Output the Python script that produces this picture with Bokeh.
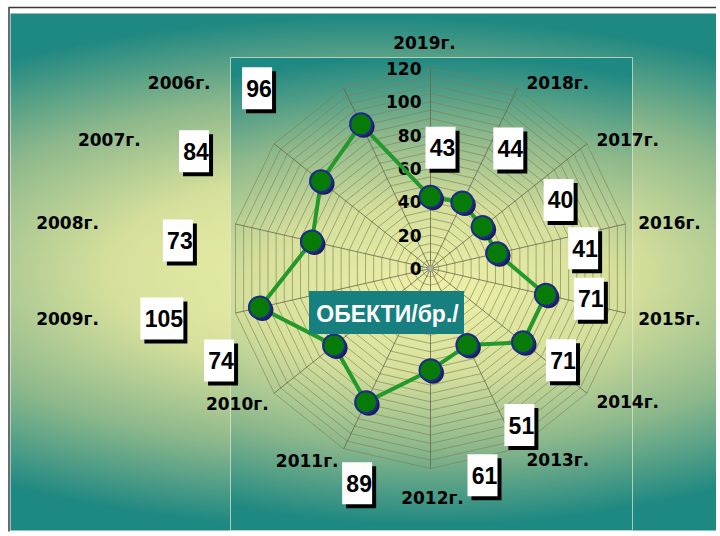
import numpy as np
from bokeh.plotting import figure
from bokeh.models import Range1d
from bokeh.embed import file_html
from bokeh.resources import INLINE
from bokeh.core.properties import value

# ---------------- data ----------------
categories = ["2006г.", "2007г.", "2008г.", "2009г.", "2010г.", "2011г.", "2012г.",
              "2013г.", "2014г.", "2015г.", "2016г.", "2017г.", "2018г.", "2019г."]
values = [96, 84, 73, 105, 74, 89, 61, 51, 71, 71, 41, 40, 44, 43]
ticks = [0, 20, 40, 60, 80, 100, 120]
title_text = "ОБЕКТИ/бр./"

# ---------------- layout / style ----------------
R_MAX = 120
RING_STEP = 5
W, H = 716, 532
ORIGIN = 0                 # page px of figure's top-left corner
K = 200.0 / 120.0          # screen px per data unit
CX, CY = 430, 268          # page px of radar centre
FONT = value("Liberation Sans")
FONT_HEAVY = value("DejaVu Sans")

# category label nudges (screen px, y down) from polar base position
cat_nudge = [(-153, 19), (-144, 13), (-142, 5), (-142, 0), (-16, -6), (-25, -12), (2, 3),
             (29, -13), (20, -8), (18, 0), (18, 5), (20, 13), (29, 19), (-6, 1)]
# value label nudges (screen px, y down) from the data point
val_nudge = [(-104, -36), (-127, -30), (-134, -1), (-98, 11), (-115, 15), (-9, 81), (52, 105),
             (52, 80), (38, 18), (43, 4), (86, -5), (76, -27), (46, -54), (10, -49)]


def X(px):
    return (px - CX) / K


def Y(py):
    return (CY - py) / K


p = figure(width=W, height=H, x_range=Range1d(X(ORIGIN), X(ORIGIN + W)),
           y_range=Range1d(Y(ORIGIN + H), Y(ORIGIN)),
           output_backend="svg", toolbar_location=None, min_border=0,
           x_axis_location=None, y_axis_location=None)
p.grid.visible = False
p.outline_line_color = None
p.background_fill_color = "white"
p.border_fill_color = "white"


def gradient(x0, y0, x1, y1, cx, cy, hw, hh, wu, stops, gamma, step=2):
    xs = np.arange(x0, x1, step) + step / 2.0
    ys = np.arange(y1, y0, -step) - step / 2.0
    PX, PY = np.meshgrid(xs, ys)
    u = (PX - cx) / hw
    v = (PY - cy) / hh
    t = np.clip(np.sqrt(wu * u ** 2 + v ** 2), 0, 1) ** gamma
    pos = [s[0] for s in stops]
    img = np.empty(PX.shape, dtype=np.uint32)
    view = img.view(dtype=np.uint8).reshape(PX.shape + (4,))
    for c in range(3):
        view[..., c] = np.interp(t, pos, [s[1][c] for s in stops]).astype(np.uint8)
    view[..., 3] = 255
    return img


stops = [(0.0, (242, 243, 170)), (0.4, (214, 224, 156)), (0.7, (140, 184, 140)), (1.0, (30, 136, 130))]

# outer chart area
ox0, oy0, ox1, oy1 = 10, 13, 716, 530
img_o = gradient(ox0, oy0, ox1, oy1, 370, 272, 360, 258, 0.3, stops, 1.0)
p.image_rgba(image=[img_o], x=X(ox0), y=Y(oy1), dw=(ox1 - ox0) / K, dh=(oy1 - oy0) / K)
# frame lines (top + left)
p.segment(x0=[X(8), X(8.5)], y0=[Y(7), Y(7)], x1=[X(716), X(8.5)], y1=[Y(7), Y(531)],
          line_color="#3a3a3a", line_width=1.5)

# inner plot area
ix0, iy0, ix1, iy1 = 230, 57, 632, 530
img_i = gradient(ix0, iy0, ix1, iy1, 431, 290, 201, 236, 0.15, stops, 0.9)
p.image_rgba(image=[img_i], x=X(ix0), y=Y(iy1), dw=(ix1 - ix0) / K, dh=(iy1 - iy0) / K)
p.quad(left=X(ix0), right=X(ix1), top=Y(iy0), bottom=Y(iy1), fill_color=None,
       line_color="#e6ead2", line_width=1, line_alpha=0.7)

# angles: 2019 at top, years decreasing clockwise
n = len(categories)
step_a = 2 * np.pi / n
angles = np.array([np.pi / 2 + (i + 1) * step_a for i in range(n)])
ca, sa = np.cos(angles), np.sin(angles)

# rings
ring_xs, ring_ys = [], []
for r in range(RING_STEP, R_MAX + 1, RING_STEP):
    ring_xs.append(list(r * ca) + [r * ca[0]])
    ring_ys.append(list(r * sa) + [r * sa[0]])
p.multi_line(xs=ring_xs, ys=ring_ys, line_color="#80805a", line_width=0.7, line_alpha=0.9)
# spokes
p.segment(x0=[0] * n, y0=[0] * n, x1=list(R_MAX * ca), y1=list(R_MAX * sa),
          line_color="#66664a", line_width=0.8)
p.scatter(x=[0], y=[0], size=6, fill_color="#b0b0a0", line_color="#909080")

# radial tick labels
p.text(x=[X(CX - 9)] * len(ticks), y=ticks, text=[str(t) for t in ticks],
       text_font=FONT_HEAVY, text_font_style="bold", text_font_size="17px",
       text_align="right", text_baseline="middle", text_color="black")

# category labels
R_LAB = 136
cx_l = [R_LAB * ca[i] + cat_nudge[i][0] / K for i in range(n)]
cy_l = [R_LAB * sa[i] - cat_nudge[i][1] / K for i in range(n)]
p.text(x=cx_l, y=cy_l, text=categories, text_font=FONT_HEAVY, text_font_style="bold",
       text_font_size="17px", text_align="center", text_baseline="middle", text_color="black")

# data polygon
vx = [values[i] * ca[i] for i in range(n)]
vy = [values[i] * sa[i] for i in range(n)]
p.line(x=vx + [vx[0]], y=vy + [vy[0]], line_color="#22992a", line_width=4)
# markers with shadow
sh = 2.5 / K
p.scatter(x=[x + sh for x in vx], y=[y - sh for y in vy], size=22, fill_color="#1c1c5c",
          line_color=None)
p.scatter(x=vx, y=vy, size=22, fill_color="#087a08", line_color="#1c2a8c", line_width=2)

# title box
p.rect(x=[X(386)], y=[Y(312)], width=155, height=43, width_units="screen",
       height_units="screen", fill_color="#17807f", line_color=None)
p.text(x=[X(387)], y=[Y(313)], text=[title_text], text_font=FONT, text_font_style="bold",
       text_font_size="23px", text_align="center", text_baseline="middle", text_color="white")

# value labels
lx = [vx[i] + val_nudge[i][0] / K for i in range(n)]
ly = [vy[i] - val_nudge[i][1] / K for i in range(n)]
bw = [30 if len(str(v)) < 3 else 43 for v in values]
so = 4 / K
p.rect(x=[x + so for x in lx], y=[y - so for y in ly], width=bw, height=42,
       width_units="screen", height_units="screen", fill_color="black", line_color=None)
p.rect(x=lx, y=ly, width=bw, height=42, width_units="screen", height_units="screen",
       fill_color="white", line_color=None)
p.text(x=[x + 2 / K for x in lx], y=ly, text=[str(v) for v in values], text_font=FONT,
       text_font_style="bold", text_font_size="23px", text_align="center",
       text_baseline="middle", text_color="black")

open("out.html", "w").write(file_html(p, INLINE))
